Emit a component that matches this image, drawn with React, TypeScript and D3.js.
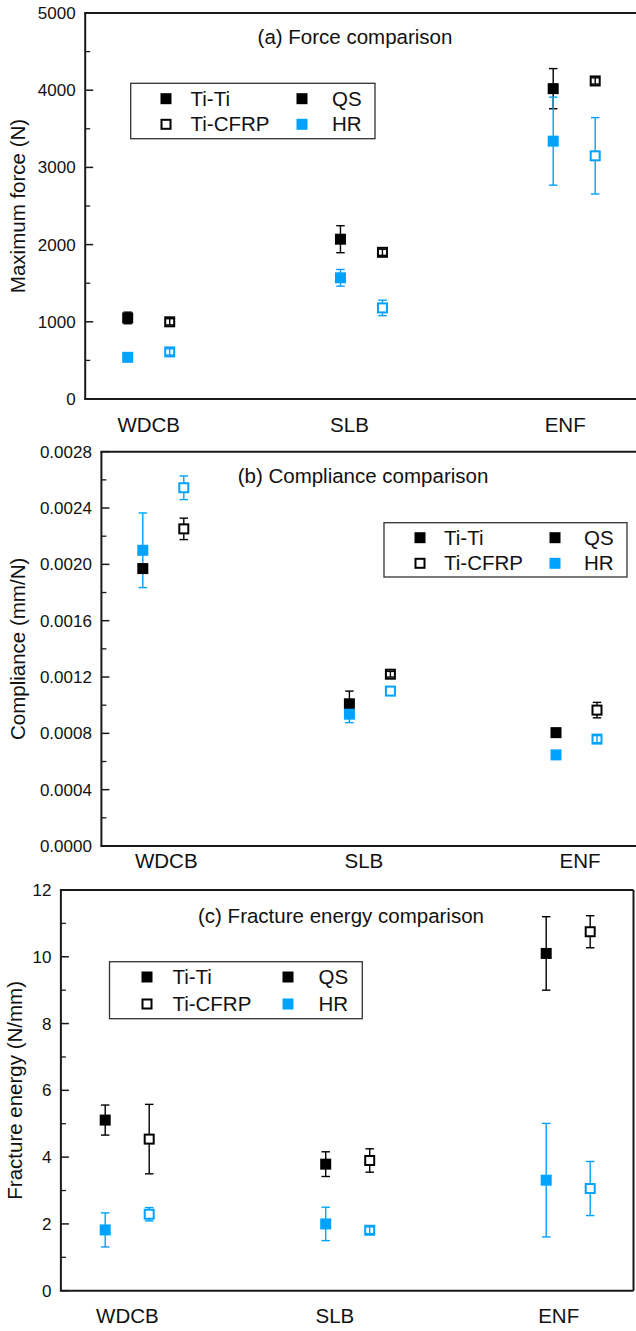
import React from 'react';
import * as d3 from 'd3';

// ---------- data ----------
const categories = ['WDCB', 'SLB', 'ENF'];
const joints = ['Ti-Ti', 'Ti-CFRP'];
const rates = ['QS', 'HR'];

// (a) Maximum force (N)
const forceTiTiQS = [1050, 2070, 4020];
const forceTiTiQSErr = [75, 175, 260];
const forceTiCfrpQS = [1000, 1900, 4120];
const forceTiCfrpQSErr = [40, 40, 40];
const forceTiTiHR = [540, 1570, 3340];
const forceTiTiHRErr = [40, 108, 570];
const forceTiCfrpHR = [610, 1180, 3150];
const forceTiCfrpHRErr = [40, 100, 495];
const forceTicks = [0, 1000, 2000, 3000, 4000, 5000];

// (b) Compliance (mm/N)
const compTiTiQS = [0.00197, 0.00101, 0.000805];
const compTiTiQSErr = [0.00003, 0.00009, 0.00001];
const compTiCfrpQS = [0.002252, 0.00122, 0.000965];
const compTiCfrpQSErr = [0.000076, 0.00002, 0.000055];
const compTiTiHR = [0.0021, 0.000936, 0.000647];
const compTiTiHRErr = [0.000265, 0.00006, 0.00001];
const compTiCfrpHR = [0.002544, 0.0011, 0.000759];
const compTiCfrpHRErr = [0.000084, 0.0, 0.000025];
const compTicks = [0, 0.0004, 0.0008, 0.0012, 0.0016, 0.002, 0.0024, 0.0028];

// (c) Fracture energy (N/mm)
const energyTiTiQS = [5.11, 3.79, 10.1];
const energyTiTiQSErr = [0.45, 0.37, 1.1];
const energyTiCfrpQS = [4.54, 3.9, 10.75];
const energyTiCfrpQSErr = [1.04, 0.35, 0.48];
const energyTiTiHR = [1.82, 2.0, 3.31];
const energyTiTiHRErr = [0.51, 0.5, 1.7];
const energyTiCfrpHR = [2.29, 1.81, 3.06];
const energyTiCfrpHRErr = [0.2, 0.1, 0.81];
const energyTicks = [0, 2, 4, 6, 8, 10, 12];

// ---------- style ----------
const FONT = '"Liberation Sans", Arial, Helvetica, sans-serif';
const BLACK = '#000000';
const BLUE = '#00A2FF';
const AXIS = '#1a1a1a';
const MS = 11; // marker size
const CAP = 8.5;

type Series = { joint: string; rate: string; values: number[]; errs: number[] };

type PanelCfg = {
  top: number; bottom: number; left: number; right: number; closed: boolean;
  ticks: number[]; fmt: (v: number) => string;
  centers: [number, number]; pairOffset: number; labelShift: number[]; labelY: number;
  title: string; titleX: number; titleY: number;
  yTitle: string; yTitleX: number;
  legend: { x0: number; y0: number; x1: number; y1: number; rows: [number, number]; m1: number; t1: number; m2: number; t2: number };
  series: Series[];
};

const mkSeries = (a: number[], ae: number[], b: number[], be: number[], c: number[], ce: number[], d: number[], de: number[]): Series[] => [
  { joint: joints[0], rate: rates[0], values: a, errs: ae },
  { joint: joints[1], rate: rates[0], values: b, errs: be },
  { joint: joints[0], rate: rates[1], values: c, errs: ce },
  { joint: joints[1], rate: rates[1], values: d, errs: de },
];

const panels: PanelCfg[] = [
  {
    top: 13, bottom: 399, left: 85.2, right: 642, closed: false,
    ticks: forceTicks, fmt: d3.format('d'),
    centers: [148.7, 574.2], pairOffset: 21, labelShift: [0, -12, -9], labelY: 431.5,
    title: '(a) Force comparison', titleX: 355, titleY: 44,
    yTitle: 'Maximum force (N)', yTitleX: 25,
    legend: { x0: 130.7, y0: 83.3, x1: 375, y1: 138.7, rows: [98.7, 124.3], m1: 166, t1: 190.5, m2: 302, t2: 332 },
    series: mkSeries(forceTiTiQS, forceTiTiQSErr, forceTiCfrpQS, forceTiCfrpQSErr, forceTiTiHR, forceTiTiHRErr, forceTiCfrpHR, forceTiCfrpHRErr),
  },
  {
    top: 451.7, bottom: 846, left: 101.4, right: 642, closed: false,
    ticks: compTicks, fmt: d3.format('.4f'),
    centers: [163.3, 576.5], pairOffset: 20.5, labelShift: [3, -6, 3.5], labelY: 868,
    title: '(b) Compliance comparison', titleX: 363, titleY: 483.3,
    yTitle: 'Compliance (mm/N)', yTitleX: 25,
    legend: { x0: 384, y0: 522.7, x1: 627, y1: 577, rows: [537.7, 563.3], m1: 420, t1: 444, m2: 555, t2: 584 },
    series: mkSeries(compTiTiQS, compTiTiQSErr, compTiCfrpQS, compTiCfrpQSErr, compTiTiHR, compTiTiHRErr, compTiCfrpHR, compTiCfrpHRErr),
  },
  {
    top: 890, bottom: 1290.7, left: 60.9, right: 633.5, closed: true,
    ticks: energyTicks, fmt: d3.format('d'),
    centers: [127.2, 568.2], pairOffset: 22, labelShift: [0.2, -12.8, -9.5], labelY: 1323,
    title: '(c) Fracture energy comparison', titleX: 341, titleY: 922.5,
    yTitle: 'Fracture energy (N/mm)', yTitleX: 22,
    legend: { x0: 109.5, y0: 961.7, x1: 362.3, y1: 1018.7, rows: [977, 1004], m1: 147, t1: 172.4, m2: 288, t2: 318.5 },
    series: mkSeries(energyTiTiQS, energyTiTiQSErr, energyTiCfrpQS, energyTiCfrpQSErr, energyTiTiHR, energyTiTiHRErr, energyTiCfrpHR, energyTiCfrpHRErr),
  },
];

function Marker({ x, y, open, color }: { x: number; y: number; open: boolean; color: string }) {
  if (open) {
    return <rect x={x - MS / 2 + 1} y={y - MS / 2 + 1} width={MS - 2} height={MS - 2} fill="#fff" stroke={color} strokeWidth={2} />;
  }
  return <rect x={x - MS / 2} y={y - MS / 2} width={MS} height={MS} fill={color} />;
}

function Panel({ cfg }: { cfg: PanelCfg }) {
  const ticks = cfg.ticks;
  const yMax = ticks[ticks.length - 1];
  const y = d3.scaleLinear().domain([0, yMax]).range([cfg.bottom, cfg.top]);
  const x = d3.scalePoint<string>().domain(categories).range(cfg.centers);
  const off = d3.scalePoint<string>().domain(joints).range([-cfg.pairOffset, cfg.pairOffset]);
  const step = ticks[1] - ticks[0];
  const minor = d3.range(ticks.length - 1).map((i) => ticks[i] + step / 2);
  const colorOf = (rate: string) => (rate === 'QS' ? BLACK : BLUE);
  const half = MS / 2;

  const bars: React.ReactNode[] = [];
  const marks: React.ReactNode[] = [];
  const overBars: React.ReactNode[] = [];
  cfg.series.forEach((s, si) => {
    const col = colorOf(s.rate);
    const open = s.joint === 'Ti-CFRP';
    s.values.forEach((v, i) => {
      const cx = (x(categories[i]) as number) + (off(s.joint) as number);
      const cy = y(v);
      const yt = y(v + s.errs[i]);
      const yb = y(v - s.errs[i]);
      const key = `${si}-${i}`;
      if (s.errs[i] > 0) {
        const bar = (
          <g key={key} stroke={col} strokeWidth={1.4} fill="none">
            <line x1={cx} x2={cx} y1={yt} y2={yb} />
            <line x1={cx - CAP / 2} x2={cx + CAP / 2} y1={yt} y2={yt} />
            <line x1={cx - CAP / 2} x2={cx + CAP / 2} y1={yb} y2={yb} />
          </g>
        );
        if (cy - yt < half && open) overBars.push(bar);
        else bars.push(bar);
      }
      marks.push(<Marker key={key} x={cx} y={cy} open={open} color={col} />);
    });
  });

  const lg = cfg.legend;
  const legendEntries = [
    { mx: lg.m1, tx: lg.t1, ry: lg.rows[0], label: joints[0], open: false, color: BLACK },
    { mx: lg.m1, tx: lg.t1, ry: lg.rows[1], label: joints[1], open: true, color: BLACK },
    { mx: lg.m2, tx: lg.t2, ry: lg.rows[0], label: rates[0], open: false, color: BLACK },
    { mx: lg.m2, tx: lg.t2, ry: lg.rows[1], label: rates[1], open: false, color: BLUE },
  ];

  return (
    <g fontFamily={FONT}>
      {ticks.map((t) => (
        <g key={'t' + t}>
          <line x1={cfg.left} x2={cfg.left + 8} y1={y(t)} y2={y(t)} stroke={AXIS} strokeWidth={1.5} />
          <text x={cfg.left - 9.5} y={y(t)} dy="0.35em" textAnchor="end" fontSize={17} fill="#111">
            {cfg.fmt(t)}
          </text>
        </g>
      ))}
      {minor.map((t) => (
        <line key={'m' + t} x1={cfg.left} x2={cfg.left + 5} y1={y(t)} y2={y(t)} stroke={AXIS} strokeWidth={1.3} />
      ))}
      <line x1={cfg.left} x2={cfg.left} y1={cfg.top} y2={cfg.bottom} stroke={AXIS} strokeWidth={2} />
      <line x1={cfg.left - 1} x2={cfg.right} y1={cfg.bottom} y2={cfg.bottom} stroke={AXIS} strokeWidth={2} />
      <line x1={cfg.left - 1} x2={cfg.right} y1={cfg.top} y2={cfg.top} stroke={AXIS} strokeWidth={2} />
      {cfg.closed && <line x1={cfg.right} x2={cfg.right} y1={cfg.top} y2={cfg.bottom} stroke={AXIS} strokeWidth={2} />}
      {categories.map((c, i) => (
        <text key={c} x={(x(c) as number) + cfg.labelShift[i]} y={cfg.labelY} textAnchor="middle" fontSize={20.5} fill="#111">
          {c}
        </text>
      ))}
      <text x={cfg.titleX} y={cfg.titleY} textAnchor="middle" fontSize={20.5} fill="#111">{cfg.title}</text>
      <text transform={`translate(${cfg.yTitleX},${(cfg.top + cfg.bottom) / 2}) rotate(-90)`} textAnchor="middle" fontSize={20.5} fill="#111">
        {cfg.yTitle}
      </text>
      {bars}
      {marks}
      {overBars}
      <rect x={lg.x0} y={lg.y0} width={lg.x1 - lg.x0} height={lg.y1 - lg.y0} fill="#fff" stroke="#333" strokeWidth={1.3} />
      {legendEntries.map((e) => (
        <g key={e.label}>
          <Marker x={e.mx} y={e.ry} open={e.open} color={e.color} />
          <text x={e.tx} y={e.ry} dy="0.35em" fontSize={20.5} fill="#111">{e.label}</text>
        </g>
      ))}
    </g>
  );
}

export default function App() {
  return (
    <div style={{ position: 'absolute', left: 0, top: 0, width: 636, height: 1331, overflow: 'hidden', background: '#fff' }}>
      <svg width={636} height={1331} viewBox="0 0 636 1331" style={{ display: 'block' }}>
        <rect width={636} height={1331} fill="#fff" />
        {panels.map((p, i) => (
          <Panel key={i} cfg={p} />
        ))}
      </svg>
    </div>
  );
}
